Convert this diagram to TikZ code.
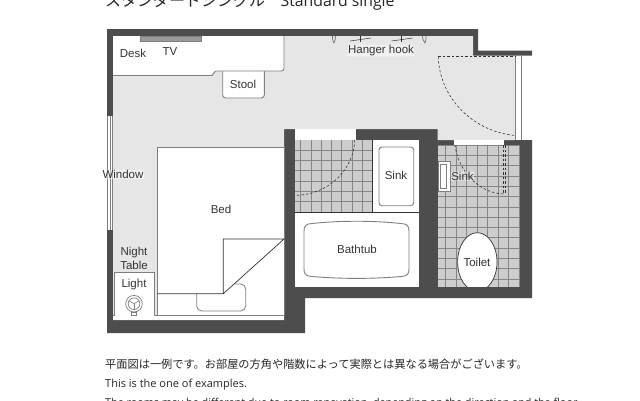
\documentclass[tikz,border=0pt]{standalone}
\usepackage{fontspec}
\setmainfont{Liberation Sans}
\newfontfamily\jpfont{Noto Sans CJK JP}
\newfontfamily\notefont{Open Sans}
\definecolor{wallgray}{HTML}{4D4D4D}
\definecolor{floorgray}{HTML}{E6E6E6}
\definecolor{tilegray}{HTML}{CDCDCD}
\definecolor{gridgray}{HTML}{858585}
\definecolor{edgegray}{HTML}{7F7F7F}
\definecolor{inkgray}{HTML}{333333}
\tikzset{
    roomlabel/.style={font=\fontsize{11.5}{13}\selectfont, text=inkgray, inner sep=1pt},
    haloed/.style={roomlabel, inner sep=0.5pt, fill=white, fill opacity=0.45, text opacity=1, rounded corners=1pt},
    fixture/.style={draw=edgegray, line width=0.9pt, fill=white},
    doorswing/.style={draw=inkgray, line width=0.6pt, dashed, dash pattern=on 2.5pt off 2pt},
    notetext/.style={anchor=base west, inner sep=0pt, text=black!85}
}
\begin{document}
\begin{tikzpicture}[x=1pt,y=-1pt]
    \clip (0,0) rectangle (640,400);
    \fill[white] (0,0) rectangle (640,400);

    % walls and floors
    \fill[wallgray] (107,29) -- (478,29) -- (478,50.5) -- (532,50.5) -- (532,55.7) -- (515,55.7) -- (515,140) -- (532,140) -- (532,298) -- (305,298) -- (305,333) -- (107,333) -- cycle;
    \fill[floorgray] (113,36) -- (473,36) -- (473,55.7) -- (515,55.7) -- (515,140) -- (437.7,140) -- (437.7,129) -- (284,129) -- (284,320) -- (113,320) -- cycle;
    \draw[edgegray, line width=0.8pt] (515,55.7) -- (515,140);
    \draw[edgegray, line width=0.8pt] (521.7,55.7) -- (521.7,140);
    \fill[white] (295,140) rectangle (419,286.7);
    \fill[white] (295,129) rectangle (355.7,140);
    \fill[white] (454,140) rectangle (504,145);

    % window
    \fill[white] (107,116) rectangle (113,230);
    \draw[edgegray, line width=0.8pt] (107.3,116) -- (107.3,230);
    \draw[edgegray, line width=0.8pt] (110,116) -- (110,230);
    \draw[edgegray, line width=0.8pt] (112.7,116) -- (112.7,230);

    % tiles
    \fill[tilegray] (295,140) rectangle (372.7,212);
    \fill[tilegray] (437.7,145) rectangle (520,286.7);
    \begin{scope}
        \clip (295,140) rectangle (372.7,212);
        \foreach \i in {0,...,8} {
            \draw[gridgray, line width=0.5pt] (300.5+10.3*\i,140) -- (300.5+10.3*\i,212);
            \draw[gridgray, line width=0.5pt] (295,150+10.3*\i) -- (372.7,150+10.3*\i);
        }
    \end{scope}
    \begin{scope}
        \clip (437.7,145) rectangle (520,286.7);
        \foreach \i in {0,...,8} {
            \draw[gridgray, line width=0.5pt] (445.7+10.5*\i,145) -- (445.7+10.5*\i,286.7);
        }
        \foreach \i in {0,...,14} {
            \draw[gridgray, line width=0.5pt] (437.7,145+10.3*\i) -- (520,145+10.3*\i);
        }
    \end{scope}
    \draw[inkgray, line width=0.7pt] (372.7,140) -- (372.7,212);
    \draw[inkgray, line width=0.7pt] (295,212) -- (419,212);

    % desk and stool
    \draw[fixture, rounded corners=3pt] (222.7,68) -- (222.7,98) -- (264.3,98) -- (264.3,68);
    \fill[white] (113,36) -- (284,36) -- (284,71) -- (215.5,71) -- (212,75.5) -- (113,75.5) -- cycle;
    \draw[edgegray, line width=0.9pt, rounded corners=2.5pt] (284,36) -- (284,71) -- (215.5,71);
    \draw[edgegray, line width=0.9pt] (215.5,71) -- (212,75.5) -- (113,75.5);
    \fill[gray!80, draw=gray] (140,36) rectangle (200.7,41);

    % hanger hooks
    \draw[inkgray!70, line width=0.7pt] (332.5,36) .. controls (332.5,40) and (333,42) .. (334,43) .. controls (335,41) and (335.5,38) .. (335.5,36);
    \draw[inkgray!70, line width=0.7pt] (422.5,36) .. controls (422.5,38) and (423,41) .. (425,43) .. controls (426,41) and (426,38) .. (426,36);
    \foreach \hx in {360,401.5} {
        \draw[inkgray, line width=0.5pt] (\hx-10,41) -- (\hx+11,38);
        \draw[inkgray, line width=0.9pt] (\hx,36) -- (\hx,41.5);
    }

    % bed
    \fill[white, draw=edgegray, line width=0.8pt] (157.3,147.3) rectangle (284,315.7);
    \fill[white] (113,315.7) rectangle (284,320);
    \draw[edgegray, line width=0.8pt] (113,315.7) -- (284,315.7);
    \draw[edgegray, line width=0.8pt, rounded corners=5pt] (196.7,293.7) -- (196.7,311) -- (245.7,311) -- (245.7,284) -- (235,284);
    \draw[inkgray, line width=0.7pt] (157.3,293.7) -- (223.3,293.7) -- (223.3,239) -- (284,239) -- (223.3,293.7);

    % night table
    \fill[white, draw=edgegray, line width=0.8pt] (114.3,315.7) -- (114.3,272.7) -- (154,272.7) -- (154,315.7);
    \draw[edgegray, line width=0.7pt] (134,303.7) circle (8.3);
    \draw[edgegray, line width=0.7pt] (134,303.7) circle (5.8);
    \foreach \a in {90,210,330} {
        \draw[edgegray, line width=0.6pt] (134,303.7) -- ++(\a:5.8);
    }
    \draw[edgegray, line width=0.7pt] (131.5,312) rectangle (136.5,315.7);

    % bath fixtures
    \draw[fixture, rounded corners=3pt] (379,147) rectangle (413.7,205.7);
    \draw[fixture] (304,232) .. controls (304,225) and (306,224) .. (312,223.5)
        .. controls (340,220.5) and (373,220.5) .. (401,223.5)
        .. controls (407,224) and (409,225) .. (409,232)
        -- (409,268) .. controls (409,275) and (407,276) .. (401,276.5)
        .. controls (373,279) and (340,279) .. (312,276.5)
        .. controls (306,276) and (304,275) .. (304,268) -- cycle;
    \fill[white, draw=edgegray, line width=0.7pt] (438,161) rectangle (450,191);
    \draw[edgegray, line width=0.7pt] (440.3,164) rectangle (446.7,188);
    \begin{scope}
        \clip (437.7,145) rectangle (520,286.7);
        \draw[fill=white, draw=inkgray, line width=0.7pt] (477.3,262) ellipse (19.7 and 29.3);
    \end{scope}

    % door swings
    \draw[doorswing] (438.3,56.5) -- (515,56.5);
    \draw[doorswing] (438.3,56.5) .. controls (439,95) and (470,131) .. (515,135.5);
    \draw[doorswing] (354.7,140) .. controls (354,168) and (330,195) .. (295,195.3);
    \draw[doorswing] (455,145) .. controls (458,170) and (478,193) .. (503.5,194);
    \draw[doorswing] (503.5,145) -- (503.5,194);
    \draw[doorswing] (505.5,145) -- (505.5,194);

    % labels
    \node[roomlabel] (deskLabel) at (133,53) {Desk};
    \node[roomlabel] (tvLabel) at (170,52) {TV};
    \node[roomlabel] (stoolLabel) at (243,84.5) {Stool};
    \node[haloed] (hangerLabel) at (381,50.5) {Hanger hook};
    \node[haloed] (windowLabel) at (123,174.5) {Window};
    \node[roomlabel] (bedLabel) at (221,209) {Bed};
    \node[roomlabel] (nightLabel) at (134,252.5) {Night};
    \node[roomlabel] (tableLabel) at (134,265.5) {Table};
    \node[roomlabel] (lightLabel) at (134,284.5) {Light};
    \node[roomlabel] (sinkLabel) at (396,175.5) {Sink};
    \node[haloed] (sinkLabelB) at (462.5,176) {Sink};
    \node[roomlabel] (bathtubLabel) at (357,249) {Bathtub};
    \node[roomlabel] (toiletLabel) at (477,262) {Toilet};

    % texts above and below
    \node[notetext, font=\fontsize{16}{18}\jpfont] (titleJp) at (105,6) {スタンダードシングル};
    \node[notetext, font=\fontsize{15.8}{18}\notefont] (titleEn) at (280.5,6) {Standard single};
    \node[notetext, font=\fontsize{11.2}{13}\jpfont] (noteJp) at (105,368) {平面図は一例です。お部屋の方角や階数によって実際とは異なる場合がございます。};
    \node[notetext, font=\fontsize{11}{13}\notefont] (noteOne) at (105,387) {This is the one of examples.};
    \node[notetext, font=\fontsize{10.8}{13}\notefont] (noteTwo) at (105,406) {The rooms may be different due to room renovation, depending on the direction and the floor.};
\end{tikzpicture}
\end{document}
